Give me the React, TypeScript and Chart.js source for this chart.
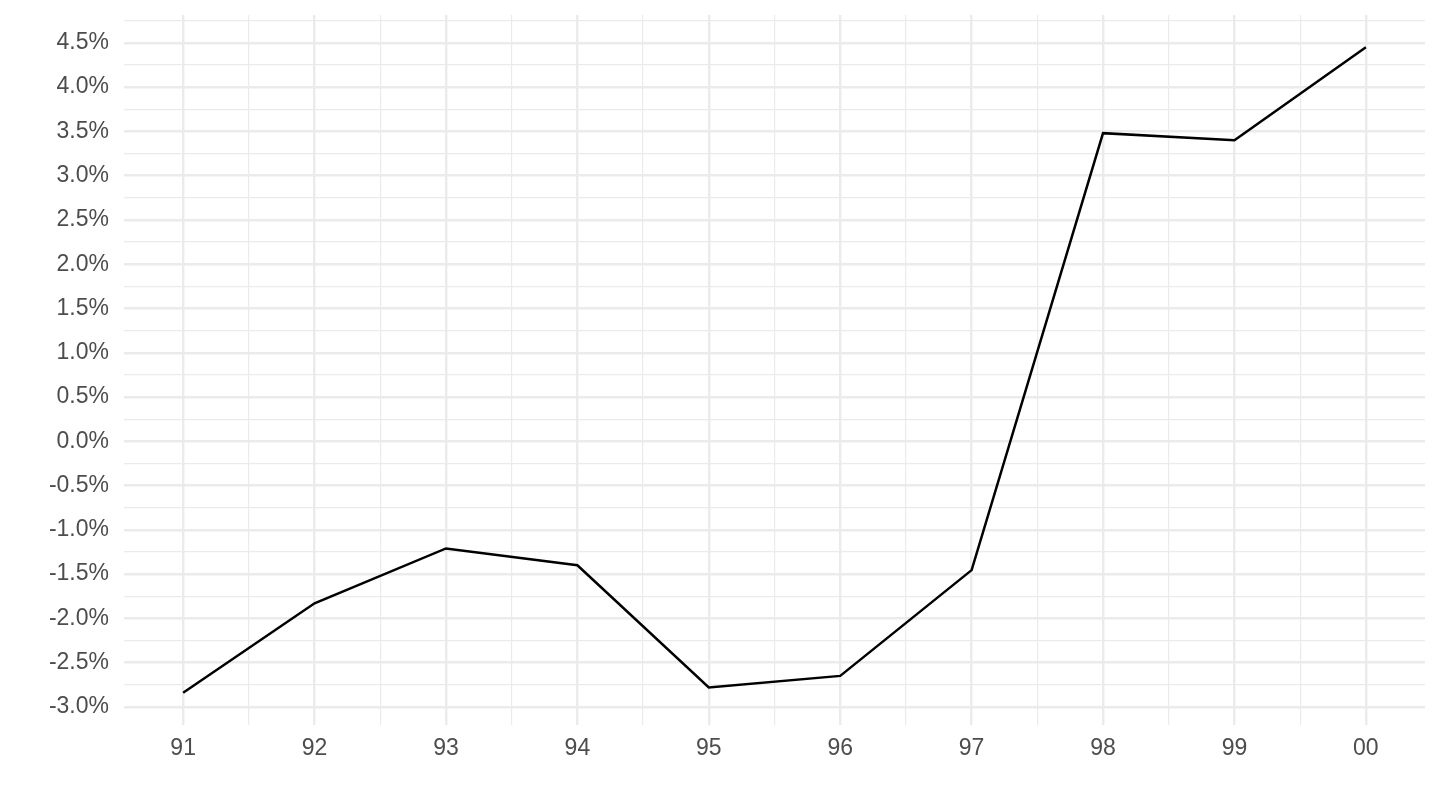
import { Chart, registerables } from "chart.js";
import { useEffect, useRef } from "react";

Chart.register(...registerables);

// years on the x axis (two-digit labels)
const yearLabels = ["91", "92", "93", "94", "95", "96", "97", "98", "99", "00"];
// yearly change, in percent
const changePct = [-2.84, -1.83, -1.21, -1.4, -2.78, -2.65, -1.455, 3.48, 3.4, 4.45];
// y grid: majors every 0.5, minors in between
const yTickValues = [
  -3.0, -2.75, -2.5, -2.25, -2.0, -1.75, -1.5, -1.25, -1.0, -0.75, -0.5, -0.25, 0.0,
  0.25, 0.5, 0.75, 1.0, 1.25, 1.5, 1.75, 2.0, 2.25, 2.5, 2.75, 3.0, 3.25, 3.5, 3.75,
  4.0, 4.25, 4.5, 4.75,
];
const xTickValues = [0, 0.5, 1, 1.5, 2, 2.5, 3, 3.5, 4, 4.5, 5, 5.5, 6, 6.5, 7, 7.5, 8, 8.5, 9];

const GRID = "#EBEBEB";
const TEXT = "#4D4D4D";
const FONT = { family: "'Liberation Sans', Arial, sans-serif", size: 23 };

function isMajor(v: number, step: number): boolean {
  return Math.abs(v / step - Math.round(v / step)) < 1e-6;
}

function ChangeChart(): JSX.Element {
  const canvasRef = useRef<HTMLCanvasElement | null>(null);

  useEffect(() => {
    document.body.style.margin = "0";
    const canvas = canvasRef.current;
    if (!canvas) return;

    // ggplot-style 5% expansion around the data
    const yMin = Math.min(...changePct);
    const yMax = Math.max(...changePct);
    const yPad = (yMax - yMin) * 0.05;
    const xPad = (yearLabels.length - 1) * 0.05;

    const chart = new Chart(canvas, {
      type: "line",
      data: {
        datasets: [
          {
            data: changePct.map((v, i) => ({ x: i, y: v })),
            borderColor: "#000000",
            borderWidth: 2.5,
            pointRadius: 0,
            tension: 0,
            fill: false,
          },
        ],
      },
      options: {
        animation: false,
        responsive: true,
        maintainAspectRatio: false,
        layout: { padding: { top: 15, right: 15, bottom: 0, left: 0 } },
        plugins: {
          legend: { display: false },
          tooltip: { enabled: false },
        },
        scales: {
          x: {
            type: "linear",
            min: -xPad,
            max: yearLabels.length - 1 + xPad,
            afterBuildTicks: (axis) => {
              axis.ticks = xTickValues.map((value) => ({ value }));
            },
            afterFit: (axis) => {
              axis.height = 85;
              axis.paddingLeft = 0;
              axis.paddingRight = 0;
            },
            border: { display: false },
            grid: {
              color: GRID,
              drawTicks: false,
              lineWidth: (ctx) => (isMajor(ctx.tick.value, 1) ? 2.4 : 1.2),
            },
            ticks: {
              color: TEXT,
              font: FONT,
              padding: 10,
              maxRotation: 0,
              autoSkip: false,
              callback: (value) => {
                const v = Number(value);
                return isMajor(v, 1) ? yearLabels[Math.round(v)] : "";
              },
            },
          },
          y: {
            type: "linear",
            min: yMin - yPad,
            max: yMax + yPad,
            afterBuildTicks: (axis) => {
              axis.ticks = yTickValues.map((value) => ({ value }));
            },
            afterFit: (axis) => {
              axis.width = 124;
              axis.paddingTop = 0;
              axis.paddingBottom = 0;
            },
            border: { display: false },
            grid: {
              color: GRID,
              drawTicks: false,
              lineWidth: (ctx) => (isMajor(ctx.tick.value, 0.5) ? 2.4 : 1.2),
            },
            ticks: {
              color: TEXT,
              font: FONT,
              padding: 15,
              autoSkip: false,
              callback: (value) => {
                const v = Number(value);
                return isMajor(v, 0.5) ? v.toFixed(1) + "%" : "";
              },
            },
          },
        },
      },
    });

    return () => {
      chart.destroy();
    };
  }, []);

  return (
    <div style={{ width: 1440, height: 810, position: "relative", background: "#fff" }}>
      <canvas ref={canvasRef}></canvas>
    </div>
  );
}

export default function App(): JSX.Element {
  return <ChangeChart />;
}
